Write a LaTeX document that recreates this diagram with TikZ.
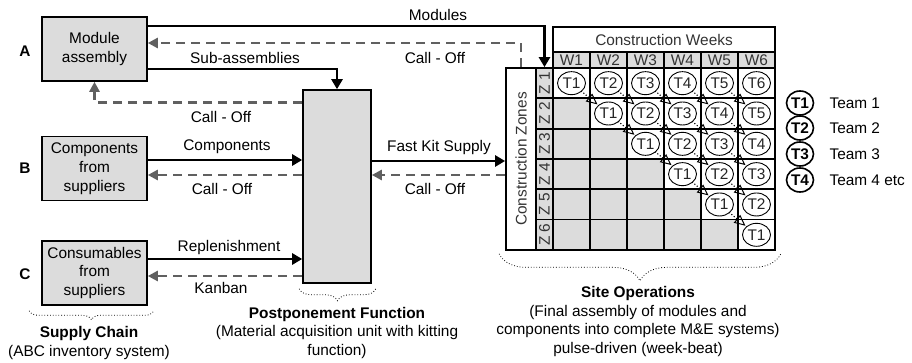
\documentclass[tikz,border=0pt]{standalone}
\usepackage{fontspec}
\setmainfont{Liberation Sans}
\usetikzlibrary{arrows.meta,shapes.geometric,decorations.pathreplacing}
\definecolor{boxgray}{RGB}{220,220,220}
\definecolor{dashgray}{RGB}{96,96,96}

\begin{document}
\begin{tikzpicture}[x=1pt, y=1pt,
  every node/.style={font=\fontsize{15.4}{18.8}\selectfont},
  stage/.style={draw, line width=1.6pt, fill=boxgray, minimum width=105, minimum height=64, align=center, inner sep=2},
  flow/.style={line width=2.8pt, -{Triangle[length=10pt,width=11pt]}},
  calloff/.style={line width=2.8pt, draw=dashgray, dash pattern=on 9pt off 6pt, -{Triangle[length=10pt,width=10pt]}},
  cell/.style={draw, line width=1.7pt, fill=white, minimum width=37, minimum height=30.33, inner sep=0},
  hcell/.style={draw, line width=1.7pt, fill=boxgray, inner sep=0, text=black!80},
  team/.style={ellipse, draw, line width=0.9pt, minimum width=28, minimum height=23, inner sep=0, text=black!85},
  legteam/.style={ellipse, draw, line width=1.6pt, minimum width=27, minimum height=24, inner sep=0},
  handoff/.style={dotted, line width=1.1pt, shorten <=-1pt, shorten >=1pt, -{Triangle[open,length=11pt,width=10pt,line width=1pt]}},
  bracket/.style={dotted, line width=0.8pt, decorate, decoration={brace, mirror, amplitude=#1}},
]
\useasboundingbox (0,0) rectangle (912,-363);

% supply chain sources
\node[stage] (modA) at (94.5,-49) {Module\\assembly};
\node[stage] (compB) at (94.5,-168.5) {Components\\from\\suppliers};
\node[stage] (consC) at (94.5,-273) {Consumables\\from\\suppliers};
\node (lblA) at (25,-51) {\textbf{A}};
\node (lblB) at (25,-168) {\textbf{B}};
\node (lblC) at (25,-274) {\textbf{C}};

% postponement (kitting) unit
\node[stage, minimum width=68, minimum height=193] (post) at (337,-186.5) {};

% construction zones / weeks frame
\node[cell, minimum width=30, minimum height=182] (zones) at (521,-159) {};
\node[rotate=90, text=black!80] (zonestxt) at (zones) {Construction Zones};
\node[cell, minimum width=222, minimum height=25, text=black!80] (weeks) at (664,-39.5) {Construction Weeks};
\foreach \j in {1,...,6}
  \node[hcell, minimum width=37, minimum height=16] (w\j) at ({553+37*(\j-0.5)},-60) {W\j};
\foreach \i in {1,...,6}{
  \node[hcell, minimum width=17, minimum height=30.33] (z\i) at (544.5,{-68-30.33*(\i-0.5)}) {};
  \node[rotate=90, text=black!80] (zt\i) at (z\i) {Z \i};
}

% pulse grid: team Tn in zone i during week j
\foreach \i in {1,...,6}{
  \foreach \j in {1,...,6}{
    \ifnum\j<\i
      \node[cell, fill=boxgray] (g-\i-\j) at ({553+37*(\j-0.5)},{-68-30.33*(\i-0.5)}) {};
    \else
      \node[cell] (g-\i-\j) at ({553+37*(\j-0.5)},{-68-30.33*(\i-0.5)}) {};
      \pgfmathtruncatemacro\tn{\j-\i+1}
      \node[team] (t-\i-\j) at (g-\i-\j) {T\tn};
    \fi
  }
}
\foreach \i in {1,...,5}{
  \foreach \j in {\i,...,5}{
    \pgfmathtruncatemacro\ii{\i+1}
    \pgfmathtruncatemacro\jj{\j+1}
    \draw[handoff] (t-\i-\j) -- (t-\ii-\jj);
  }
}

% legend
\foreach \k/\y/\txt in {1/103/Team 1, 2/128/Team 2, 3/154/Team 3, 4/180/Team 4 etc}{
  \node[legteam] (leg\k) at (800,-\y) {\textbf{T\k}};
  \node[anchor=west] (legtxt\k) at (826,-\y) {\txt};
}

% material flows
\draw[flow] ([yshift=23]modA.east) -| (z1.north);
\draw[flow] ([yshift=-20]modA.east) -| (post.north);
\draw[flow] ([yshift=8.5]compB.east) -- ([yshift=26.5]post.west);
\draw[flow] ([yshift=14]consC.east) -- ([yshift=-72.5]post.west);
\draw[flow] ([yshift=25.5]post.east) -- ([yshift=-2]zones.west);

% call-offs (pull signals)
\draw[calloff] (zones.north) |- ([yshift=6]modA.east);
\draw[calloff] ([yshift=-13]post.north west) -| (modA.south);
\draw[calloff] ([yshift=11.5]post.west) -- ([yshift=-6.5]compB.east);
\draw[calloff] ([yshift=-89.5]post.west) -- ([yshift=-3]consC.east);
\draw[calloff] ([yshift=-16]zones.west) -- ([yshift=11.5]post.east);

% flow labels
\node (tmod) at (438,-15) {Modules};
\node (tcall1) at (435,-58) {Call - Off};
\node (tsub) at (245,-58) {Sub-assemblies};
\node (tcall2) at (221,-117) {Call - Off};
\node (tcomp) at (227,-147) {Components};
\node (tcall3) at (222,-189) {Call - Off};
\node (trep) at (229,-248) {Replenishment};
\node (tkan) at (221,-288) {Kanban};
\node (tfast) at (439,-148) {Fast Kit Supply};
\node (tcall4) at (435,-189) {Call - Off};

% stage captions
\draw[bracket=9] ([shift={(-12,-5)}]consC.south west) -- ([shift={(6,-5)}]consC.south east);
\node[align=center] (capsupply) at (89,-343) {\textbf{Supply Chain}\\(ABC inventory system)};
\draw[bracket=12] ([shift={(-3,-5)}]post.south west) -- ([shift={(4,-5)}]post.south east);
\node[align=center] (cappost) at (337,-333) {\textbf{Postponement Function}\\(Material acquisition unit with kitting\\function)};
\draw[bracket=27] ([shift={(-6,-3)}]zones.south west) -- ([shift={(5,-3)}]g-6-6.south east);
\node[align=center] (capsite) at (638,-321.5) {\textbf{Site Operations}\\(Final assembly of modules and\\components into complete M\&E systems)\\pulse-driven (week-beat)};
\end{tikzpicture}
\end{document}
